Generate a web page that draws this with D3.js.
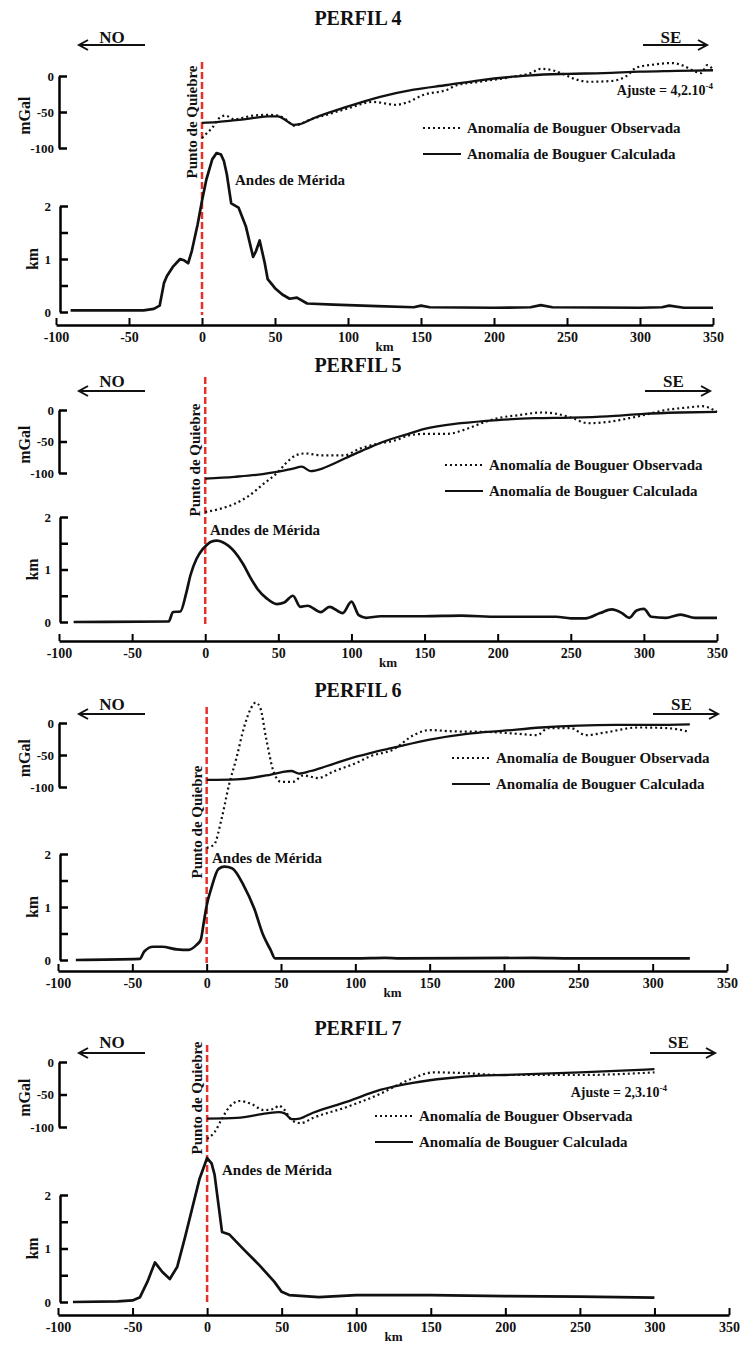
<!DOCTYPE html>
<html>
<head>
<meta charset="utf-8">
<script src="https://cdn.jsdelivr.net/npm/d3@7"></script>
<style>
body { margin: 0; background: #fff; }
svg text { font-family: "Liberation Serif", "Times New Roman", serif; font-weight: bold; fill: #111; }
</style>
</head>
<body>
<svg id="chart" width="746" height="1345"></svg>
<script>
// ---- data ----
var titles = ["PERFIL 4", "PERFIL 5", "PERFIL 6", "PERFIL 7"];
var xTicks = [-100, -50, 0, 50, 100, 150, 200, 250, 300, 350];
var mgalTicks = [0, -50, -100];
var kmTicks = [0, 0.5, 1, 1.5, 2];
var legendNames = ["Anomalía de Bouguer Observada", "Anomalía de Bouguer Calculada"];
var ajuste = ["4,2.10", null, null, "2,3.10"];
var ajusteExp = "-4";

// PERFIL 4: [km, altura km] / [km, mGal]
var topo4 = [[-90,0.03],[-40,0.03],[-33,0.06],[-29,0.12],[-26,0.55],[-24,0.68],[-20,0.85],[-15,1.0],[-12,0.97],[-9.5,0.92],[-7,1.15],[-3,1.65],[0,2.1],[3,2.5],[7,2.88],[10,3.0],[13,2.97],[15,2.85],[17,2.6],[20,2.05],[25,1.97],[30,1.62],[35,1.04],[37,1.15],[39.5,1.35],[43,0.92],[45,0.62],[50,0.45],[55,0.33],[60,0.25],[65,0.27],[72,0.16],[90,0.14],[120,0.11],[145,0.09],[150,0.12],[156,0.09],[200,0.08],[225,0.09],[232,0.13],[240,0.09],[300,0.08],[315,0.09],[320,0.12],[330,0.08],[350,0.08]];
var calc4 = [[0,-65],[10,-64],[20,-62],[30,-60],[45,-56],[52,-56],[57,-61],[63,-68],[67,-67],[76,-59],[99,-43],[122,-29],[145,-19],[168,-12.5],[190,-6],[213,-1],[225,1],[250,3],[275,4],[300,6],[325,7],[350,8]];
var obs4 = [[0,-86],[3,-80],[7,-72],[12,-58],[16,-55],[22,-60],[28,-58],[35,-55],[45,-54],[52,-55],[58,-61],[63,-69],[68,-66],[75,-60],[85,-54],[100,-45],[117,-36],[133,-40],[140,-37],[152,-26],[168,-19],[174,-13],[190,-8],[213,-1],[225,4],[232,10],[240,8],[247,3],[255,-4],[265,-8],[280,-7],[290,-1],[298,12],[310,16],[322,18],[330,14],[338,6],[342,4],[346,15],[350,9]];

// PERFIL 5
var topo5 = [[-90,0],[-25,0.01],[-22,0.19],[-17,0.2],[-13,0.55],[-10,0.9],[-6,1.2],[-2,1.38],[0,1.44],[4,1.53],[8,1.55],[12,1.52],[20,1.34],[26,1.1],[31,0.84],[36,0.62],[42,0.45],[49,0.34],[54,0.37],[60,0.5],[65,0.29],[70,0.31],[79,0.19],[85,0.29],[94,0.17],[100,0.39],[105,0.13],[110,0.08],[120,0.11],[150,0.11],[175,0.12],[200,0.1],[240,0.1],[250,0.07],[260,0.07],[270,0.17],[278,0.24],[285,0.17],[290,0.08],[295,0.22],[300,0.25],[305,0.1],[315,0.08],[325,0.14],[335,0.08],[350,0.08]];
var calc5 = [[0,-109],[20,-106],[35,-103],[50,-98],[60,-93],[66,-90],[72,-97],[80,-93],[90,-83],[100,-72],[110,-62],[120,-52],[140,-37],[150,-30],[175,-21],[200,-16],[225,-13],[250,-12],[275,-10],[300,-6],[325,-4],[350,-3]];
var obs5 = [[0,-162],[10,-157],[20,-149],[30,-136],[40,-117],[50,-98],[55,-85],[62,-72],[68,-69],[80,-72],[95,-72],[105,-62],[115,-55],[130,-48],[140,-40],[150,-38],[165,-38],[180,-29],[190,-20],[200,-13],[215,-8],[230,-4],[240,-6],[250,-12],[262,-21],[275,-19],[290,-13],[300,-8],[315,0],[330,4],[340,6],[350,-3]];

// PERFIL 6
var topo6 = [[-88,0],[-45,0.02],[-42,0.16],[-36,0.25],[-30,0.25],[-20,0.2],[-12,0.19],[-7,0.28],[-4,0.38],[-2,0.7],[0,1.03],[3,1.34],[8,1.72],[12,1.76],[17,1.73],[25,1.4],[32,0.97],[38,0.47],[43,0.19],[46,0.03],[100,0.03],[120,0.04],[130,0.03],[220,0.04],[245,0.03],[325,0.03]];
var calc6 = [[0,-89],[20,-88],[40,-82],[50,-77],[57,-75],[62,-79],[70,-75],[80,-68],[100,-53],[110,-47],[125,-39],[150,-26],[175,-17],[200,-12],[225,-7],[250,-4],[275,-3],[300,-3],[325,-2]];
var obs6 = [[0,-195],[5,-190],[10,-150],[15,-97],[20,-55],[25,-8],[30,24],[33,32],[36,24],[40,-24],[45,-76],[50,-92],[58,-92],[65,-82],[75,-86],[85,-76],[100,-63],[110,-52],[125,-42],[140,-18],[150,-11],[165,-13],[190,-14],[210,-17],[222,-19],[230,-8],[245,-8],[255,-19],[270,-14],[290,-7],[310,-8],[325,-14]];

// PERFIL 7
var topo7 = [[-90,0],[-60,0.01],[-50,0.03],[-45,0.09],[-40,0.38],[-35,0.74],[-30,0.56],[-25,0.43],[-20,0.66],[-15,1.19],[-10,1.75],[-5,2.31],[0,2.69],[3,2.59],[5,2.38],[10,1.31],[15,1.26],[25,0.97],[35,0.69],[45,0.38],[50,0.19],[55,0.13],[75,0.09],[100,0.13],[150,0.13],[200,0.11],[250,0.1],[300,0.08]];
var calc7 = [[0,-87],[20,-86],[40,-79],[48,-77],[52,-79],[57,-88],[62,-87],[71,-78],[94,-61],[116,-43],[138,-32],[161,-25],[183,-21],[200,-20],[250,-16],[300,-11]];
var obs7 = [[0,-118],[5,-108],[10,-87],[15,-69],[22,-60],[30,-65],[38,-74],[45,-72],[48,-67],[52,-74],[57,-90],[63,-94],[71,-86],[94,-69],[116,-49],[130,-33],[138,-25],[152,-16],[172,-17],[196,-20],[250,-20],[300,-16]];

var topos = [topo4, topo5, topo6, topo7];
var calcs = [calc4, calc5, calc6, calc7];
var obss = [obs4, obs5, obs6, obs7];

// ---- layout (pixels) ----
var layout = [
  { xr: [56, 713], gy: [76, 148], ky: [312, 206], axisY: 325, titleY: 25, arrowY: 45, nameY: 43, se: [643, 707], qTop: 62, qY: 122, andes: [235, 185], leg: [423, 128], aj: [713, 95], curve: d3.curveLinear },
  { xr: [59, 717], gy: [410, 473], ky: [622, 517], axisY: 641, titleY: 372, arrowY: 391, nameY: 387, se: [645, 710], qTop: 377, qY: 460, andes: [210, 535], leg: [445, 465], curve: d3.curveMonotoneX },
  { xr: [58, 727], gy: [723, 787], ky: [960, 854], axisY: 971, titleY: 697, arrowY: 714, nameY: 710, se: [653, 718], qTop: 707, qY: 822, andes: [212, 863], leg: [452, 758], curve: d3.curveMonotoneX },
  { xr: [58, 729], gy: [1062, 1127], ky: [1302, 1195], axisY: 1315, titleY: 1035, arrowY: 1053, nameY: 1048, se: [650, 715], qTop: 1045, qY: 1098, andes: [222, 1175], leg: [375, 1116], aj: [667, 1097], curve: d3.curveLinear }
];

var serif = '"Liberation Serif", "Times New Roman", serif';
var svg = d3.select("#chart");
var axisX = 59;

function arrow(g, x1, x2, y, left) {
  g.append("line").attr("x1", x1).attr("x2", x2).attr("y1", y).attr("y2", y)
    .attr("stroke", "#111").attr("stroke-width", 2);
  var tip = left ? x1 : x2, d = left ? 9 : -9;
  g.append("path").attr("d", "M" + (tip + d) + "," + (y - 5) + "L" + tip + "," + y + "L" + (tip + d) + "," + (y + 5))
    .attr("fill", "none").attr("stroke", "#111").attr("stroke-width", 2);
}

layout.forEach(function(p, i) {
  var g = svg.append("g");
  var x = d3.scaleLinear().domain([-100, 350]).range(p.xr);
  var gy = d3.scaleLinear().domain([0, -100]).range(p.gy);
  var ky = d3.scaleLinear().domain([0, 2]).range(p.ky);

  // title
  g.append("text").attr("x", 358).attr("y", p.titleY).attr("text-anchor", "middle")
    .attr("font-size", 20).text(titles[i]);

  // direction arrows
  arrow(g, 79, 145, p.arrowY, true);
  g.append("text").attr("x", 112).attr("y", p.nameY).attr("text-anchor", "middle").attr("font-size", 17).text("NO");
  arrow(g, p.se[0], p.se[1], p.arrowY, false);
  g.append("text").attr("x", (p.se[0] + p.se[1]) / 2 - 4).attr("y", p.nameY).attr("text-anchor", "middle").attr("font-size", 17).text("SE");

  // axes
  var xa = g.append("g").attr("transform", "translate(0," + p.axisY + ")")
    .call(d3.axisBottom(x).tickValues(xTicks).tickSizeInner(-7).tickSizeOuter(0).tickPadding(7)
      .tickFormat(function(d) { return String(d); }));
  xa.attr("font-size", 14).attr("font-family", serif);
  xa.select(".domain").attr("stroke-width", 2.5);
  xa.selectAll(".tick line").attr("stroke-width", 2);
  g.append("text").attr("x", x(125)).attr("y", p.axisY + 26).attr("text-anchor", "middle").attr("font-size", 13).text("km");

  var ga = g.append("g").attr("transform", "translate(" + axisX + ",0)")
    .call(d3.axisLeft(gy).tickValues(mgalTicks).tickSizeInner(-8).tickSizeOuter(0).tickPadding(5)
      .tickFormat(function(d) { return String(d); }));
  ga.attr("font-size", 13).attr("font-family", serif);
  ga.select(".domain").attr("stroke-width", 2.5);
  ga.selectAll(".tick line").attr("stroke-width", 2.5);

  var ka = g.append("g").attr("transform", "translate(" + (axisX + 1) + ",0)")
    .call(d3.axisLeft(ky).tickValues(kmTicks).tickSizeInner(-8).tickSizeOuter(0).tickPadding(9)
      .tickFormat(function(d) { return d % 1 === 0 ? String(d) : ""; }));
  ka.attr("font-size", 13).attr("font-family", serif);
  ka.select(".domain").attr("stroke-width", 2.5);
  ka.selectAll(".tick line").attr("stroke-width", 2.5);

  g.append("text").attr("transform", "translate(30," + gy(-55) + ") rotate(-90)")
    .attr("text-anchor", "middle").attr("font-size", 16).text("mGal");
  g.append("text").attr("transform", "translate(38," + ky(1) + ") rotate(-90)")
    .attr("text-anchor", "middle").attr("font-size", 16).text("km");

  // break point
  g.append("line").attr("x1", x(0)).attr("x2", x(0)).attr("y1", p.qTop).attr("y2", ky(0) + 3)
    .attr("stroke", "#e8302a").attr("stroke-width", 2.5).attr("stroke-dasharray", "7,3");
  g.append("text").attr("transform", "translate(" + (x(0) - 5) + "," + p.qY + ") rotate(-90)")
    .attr("text-anchor", "middle").attr("font-size", 15).text("Punto de Quiebre");

  // topography
  var topoLine = d3.line().x(function(d) { return x(d[0]); }).y(function(d) { return ky(d[1]); }).curve(p.curve);
  g.append("path").datum(topos[i]).attr("d", topoLine)
    .attr("fill", "none").attr("stroke", "#111").attr("stroke-width", 2.7).attr("stroke-linejoin", "round");
  g.append("text").attr("x", p.andes[0]).attr("y", p.andes[1]).attr("font-size", 15).text("Andes de Mérida");

  // gravity
  var gLine = d3.line().x(function(d) { return x(d[0]); }).y(function(d) { return gy(d[1]); }).curve(d3.curveMonotoneX);
  g.append("path").datum(obss[i]).attr("d", gLine)
    .attr("fill", "none").attr("stroke", "#111").attr("stroke-width", 2.2).attr("stroke-dasharray", "2,3");
  g.append("path").datum(calcs[i]).attr("d", gLine)
    .attr("fill", "none").attr("stroke", "#111").attr("stroke-width", 2.3);

  // legend
  legendNames.forEach(function(name, j) {
    var ly = p.leg[1] + j * 26;
    g.append("line").attr("x1", p.leg[0]).attr("x2", p.leg[0] + 38).attr("y1", ly).attr("y2", ly)
      .attr("stroke", "#111").attr("stroke-width", 2.2)
      .attr("stroke-dasharray", j === 0 ? "2,3" : null);
    g.append("text").attr("x", p.leg[0] + 44).attr("y", ly + 5).attr("font-size", 15).text(name);
  });

  if (ajuste[i]) {
    var t = g.append("text").attr("x", p.aj[0]).attr("y", p.aj[1]).attr("text-anchor", "end").attr("font-size", 14);
    t.append("tspan").text("Ajuste = " + ajuste[i]);
    t.append("tspan").attr("dy", -6).attr("font-size", 9).text(ajusteExp);
  }
});
</script>
</body>
</html>
